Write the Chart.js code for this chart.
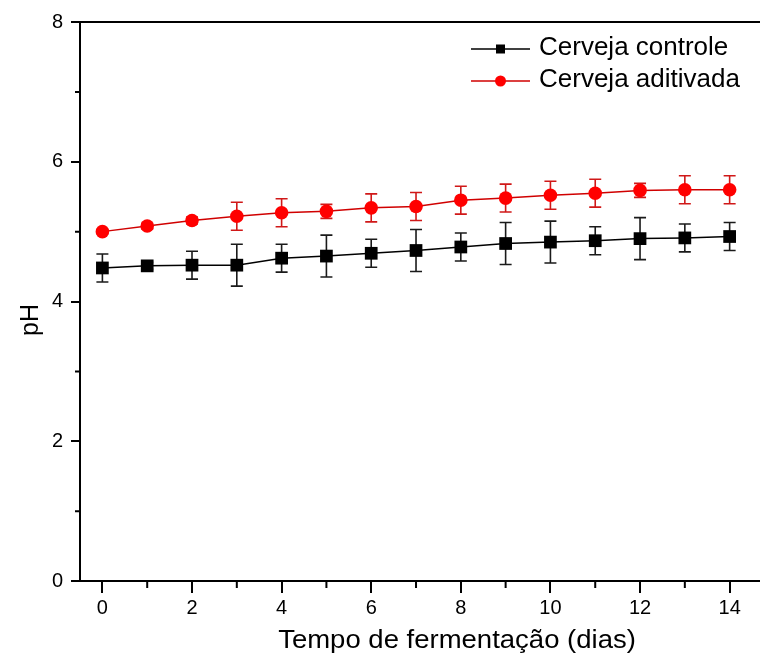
<!DOCTYPE html>
<html>
<head>
<meta charset="utf-8">
<script src="https://cdn.jsdelivr.net/npm/chart.js@4.4.1/dist/chart.umd.min.js"></script>
<style>
  body { margin: 0; background: #fff; overflow: hidden; }
  #wrap { width: 760px; height: 656px; overflow: hidden; }
</style>
</head>
<body>
<div id="wrap"><canvas id="phChart" width="770" height="656"></canvas></div>
<script>
// days of fermentation
const days = [0, 1, 2, 3, 4, 5, 6, 7, 8, 9, 10, 11, 12, 13, 14];

// control beer: mean pH and error (+/-)
const controlMean = [4.48, 4.51, 4.52, 4.52, 4.62, 4.65, 4.69, 4.73, 4.78, 4.83, 4.85, 4.87, 4.90, 4.91, 4.93];
const controlErr  = [0.20, 0.05, 0.20, 0.30, 0.20, 0.30, 0.20, 0.30, 0.20, 0.30, 0.30, 0.20, 0.30, 0.20, 0.20];

// additivated beer
const aditivadaMean = [5.00, 5.08, 5.16, 5.22, 5.27, 5.29, 5.34, 5.36, 5.45, 5.48, 5.52, 5.55, 5.59, 5.60, 5.60];
const aditivadaErr  = [0.03, 0.04, 0.05, 0.20, 0.20, 0.10, 0.20, 0.20, 0.20, 0.20, 0.20, 0.20, 0.10, 0.20, 0.20];

const legendLabels = ["Cerveja controle", "Cerveja aditivada"];
const xTitle = "Tempo de fermentação (dias)";
const yTitle = "pH";

const FONT = "'Liberation Sans', Arial, sans-serif";

// error bars, minor ticks, top frame, legend and axis titles
const extras = {
  id: 'extras',
  beforeDatasetsDraw(chart) {
    const ctx = chart.ctx;
    const x = chart.scales.x, y = chart.scales.y;
    chart.data.datasets.forEach(ds => {
      ctx.save();
      ctx.strokeStyle = ds.errColor;
      ctx.lineWidth = 1.6;
      ds.data.forEach((v, i) => {
        const px = x.getPixelForValue(days[i]);
        const top = y.getPixelForValue(v + ds.err[i]);
        const bot = y.getPixelForValue(v - ds.err[i]);
        ctx.beginPath();
        ctx.moveTo(px, top); ctx.lineTo(px, bot);
        ctx.moveTo(px - 6, top); ctx.lineTo(px + 6, top);
        ctx.moveTo(px - 6, bot); ctx.lineTo(px + 6, bot);
        ctx.stroke();
      });
      ctx.restore();
    });
  },
  afterDraw(chart) {
    const ctx = chart.ctx;
    const a = chart.chartArea;
    const x = chart.scales.x, y = chart.scales.y;
    ctx.save();
    ctx.strokeStyle = '#000';
    ctx.lineWidth = 2;
    // top frame
    ctx.beginPath();
    ctx.moveTo(a.left, a.top); ctx.lineTo(a.right, a.top);
    ctx.stroke();
    // minor ticks
    ctx.beginPath();
    for (let v = 1; v < 8; v += 2) {
      const py = y.getPixelForValue(v);
      ctx.moveTo(a.left, py); ctx.lineTo(a.left - 5, py);
    }
    for (let v = 1; v < 15; v += 2) {
      const px = x.getPixelForValue(v);
      ctx.moveTo(px, a.bottom); ctx.lineTo(px, a.bottom + 7);
    }
    ctx.stroke();

    // legend
    const rows = [49, 81];
    chart.data.datasets.forEach((ds, i) => {
      const ly = rows[i];
      ctx.strokeStyle = ds.borderColor;
      ctx.lineWidth = 1.5;
      ctx.beginPath();
      ctx.moveTo(471, ly); ctx.lineTo(530, ly);
      ctx.stroke();
      ctx.fillStyle = ds.pointBackgroundColor;
      if (ds.pointStyle === 'rect') {
        ctx.fillRect(496, ly - 4.5, 9, 9);
      } else {
        ctx.beginPath();
        ctx.arc(500.5, ly, 5.5, 0, Math.PI * 2);
        ctx.fill();
      }
      ctx.fillStyle = '#000';
      ctx.font = "26px " + FONT;
      ctx.textBaseline = 'middle';
      ctx.fillText(legendLabels[i], 539, ly - 1);
    });

    // axis titles
    ctx.fillStyle = '#000';
    ctx.textBaseline = 'alphabetic';
    ctx.textAlign = 'center';
    ctx.save();
    ctx.translate(457, 648);
    ctx.scale(1.1, 1);
    ctx.font = "25px " + FONT;
    ctx.fillText(xTitle, 0, 0);
    ctx.restore();

    ctx.save();
    ctx.translate(38, 320);
    ctx.rotate(-Math.PI / 2);
    ctx.font = "25px " + FONT;
    ctx.fillText(yTitle, 0, 0);
    ctx.restore();
    ctx.restore();
  }
};

new Chart(document.getElementById('phChart'), {
  type: 'line',
  data: {
    labels: days,
    datasets: [
      {
        label: legendLabels[0],
        data: controlMean,
        err: controlErr,
        errColor: '#1a1a1a',
        borderColor: '#000',
        borderWidth: 1.5,
        pointStyle: 'rect',
        pointRadius: 9,
        pointBackgroundColor: '#000',
        pointBorderWidth: 0,
        tension: 0
      },
      {
        label: legendLabels[1],
        data: aditivadaMean,
        err: aditivadaErr,
        errColor: '#d01818',
        borderColor: '#d00000',
        borderWidth: 1.5,
        pointStyle: 'circle',
        pointRadius: 6.8,
        pointBackgroundColor: '#ff0000',
        pointBorderWidth: 0,
        tension: 0
      }
    ]
  },
  options: {
    responsive: false,
    animation: false,
    layout: { padding: { top: 22, right: 0, left: 0, bottom: 0 } },
    plugins: { legend: { display: false }, tooltip: { enabled: false } },
    scales: {
      x: {
        type: 'linear',
        min: -0.5,
        max: 14.7,
        afterFit(scale) { scale.height = 75; },
        border: { color: '#000', width: 2 },
        grid: { drawOnChartArea: false, drawTicks: true, tickLength: 12, color: '#000', lineWidth: 2 },
        ticks: {
          stepSize: 2,
          includeBounds: false,
          color: '#000',
          padding: 3,
          font: { family: FONT, size: 20 }
        },
        title: { display: false }
      },
      y: {
        min: 0,
        max: 8,
        afterFit(scale) { scale.width = 80; },
        border: { color: '#000', width: 2 },
        grid: { drawOnChartArea: false, drawTicks: true, tickLength: 9, color: '#000', lineWidth: 2 },
        ticks: {
          stepSize: 2,
          color: '#000',
          padding: 8,
          font: { family: FONT, size: 20 }
        },
        title: { display: false }
      }
    }
  },
  plugins: [extras]
});
</script>
</body>
</html>
